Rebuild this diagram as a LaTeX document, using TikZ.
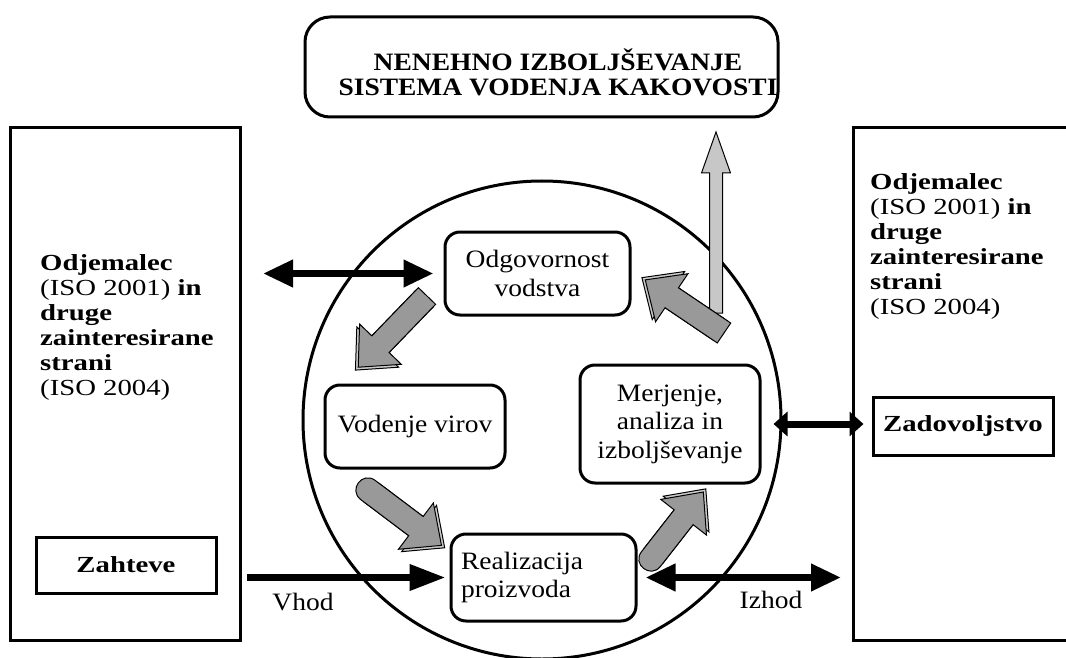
\documentclass[tikz,border=0pt]{standalone}
\usepackage{fontspec}
\setmainfont{Liberation Serif}
\newfontfamily\procfont[FakeStretch=1.1]{Liberation Serif}
\newfontfamily\partyfont[FakeStretch=1.25]{Liberation Serif}
\usetikzlibrary{arrows.meta,calc}

\tikzset{
  box/.style={draw, line width=3pt, inner sep=0pt},
  proc/.style={draw, line width=3pt, rounded corners=15pt, align=center,
    font=\procfont\fontsize{25}{28.5}\selectfont, inner sep=0pt},
  party/.style={align=left, font=\partyfont\fontsize{23}{25}\selectfont,
    inner sep=0pt, anchor=north west},
  partybold/.style={font=\partyfont\bfseries\fontsize{23}{25}\selectfont},
  label/.style={font=\procfont\fontsize{25}{28}\selectfont, inner sep=0pt},
  flow/.style={line width=7pt,
    arrows={Triangle[length=30pt,width=26pt]-Triangle[length=30pt,width=26pt]}},
  flowshort/.style={line width=7pt,
    arrows={Triangle[length=14pt,width=24pt]-Triangle[length=14pt,width=24pt]}},
  flowin/.style={line width=7pt, arrows={-Triangle[length=36pt,width=25pt]}},
  blockfill/.style={fill=black!40, draw=black, line width=1pt},
  blockshade/.style={fill=black!20, draw=black, line width=1pt},
  liftfill/.style={fill=black!22, draw=black, line width=1pt},
}

% broad grey flow arrow: tail point, direction in degrees, length
\newcommand\blockarrow[3]{%
  \begin{scope}[shift={#1}, rotate=#2]
    \filldraw[blockshade] (4,-12) -- ({#3-28},-12) -- ({#3-28},-29) -- ({#3+4},0)
      -- ({#3-28},29) -- ({#3-28},12) -- (4,12) -- cycle;
    \filldraw[blockfill] (0,-12) -- ({#3-32},-12) -- ({#3-32},-29) -- (#3,0)
      -- ({#3-32},29) -- ({#3-32},12) -- (0,12) -- cycle;
  \end{scope}}
% the same with a rounded tail
\newcommand\blockarrowround[3]{%
  \begin{scope}[shift={#1}, rotate=#2]
    \filldraw[blockshade] (4,-12) -- ({#3-28},-12) -- ({#3-28},-29) -- ({#3+4},0)
      -- ({#3-28},29) -- ({#3-28},12) -- (4,12) -- cycle;
    \filldraw[blockfill] (0,-12) -- ({#3-32},-12) -- ({#3-32},-29) -- (#3,0)
      -- ({#3-32},29) -- ({#3-32},12) -- (0,12)
      .. controls (-16,12) and (-16,-12) .. (0,-12) -- cycle;
  \end{scope}}

\begin{document}
\begin{tikzpicture}[x=1pt, y=-1pt]
\useasboundingbox (0,0) rectangle (1066,658);
\clip (0,0) rectangle (1066,658);

% heading box
\node[draw, line width=3pt, rounded corners=25pt, minimum width=473pt,
  minimum height=100pt, inner sep=0pt] (kak) at (541.5,67) {};
\node[font=\procfont\bfseries\fontsize{25}{25}\selectfont, align=center,
  inner sep=0pt] (kaktxt) at (558,72)
  {NENEHNO IZBOLJŠEVANJE\\SISTEMA VODENJA KAKOVOSTI};

% interested parties on both sides
\node[box, minimum width=230pt, minimum height=512pt] (lbox) at (125,384) {};
\node[box, minimum width=222pt, minimum height=512pt] (rbox) at (964,384) {};
\node[party] (ltxt) at (40,254)
  {\textbf{Odjemalec}\\(ISO 2001) \textbf{in}\\\textbf{druge}\\
   \textbf{zainteresirane}\\\textbf{strani}\\(ISO 2004)};
\node[party] (rtxt) at (870,173)
  {\textbf{Odjemalec}\\(ISO 2001) \textbf{in}\\\textbf{druge}\\
   \textbf{zainteresirane}\\\textbf{strani}\\(ISO 2004)};
\node[box, partybold, minimum width=180pt, minimum height=56pt] (zah) at (126,565) {Zahteve};
\node[box, partybold, minimum width=180pt, minimum height=58pt] (zad) at (963,426) {Zadovoljstvo};

% process cycle
\node[draw, circle, line width=3pt, minimum size=478pt, inner sep=0pt] (cyc) at (542,420) {};
\node[proc, minimum width=185pt, minimum height=83pt] (odg) at (537.5,273.5) {Odgovornost\\vodstva};
\node[proc, minimum width=180pt, minimum height=83pt] (vod) at (415,426.5) {Vodenje virov};
\node[proc, minimum width=180pt, minimum height=118pt] (mer) at (670,424) {Merjenje,\\analiza in\\izboljševanje};
\node[proc, minimum width=185pt, minimum height=87pt, align=left, text width=165pt] (rea) at (543.5,577.5) {Realizacija\\proizvoda};

% improvement lift towards the heading
\coordinate (lift) at (716,313);
\begin{scope}[shift={(lift)}]
  \filldraw[liftfill] (-6.5,0) -- (-6.5,-140) -- (-14.5,-140) -- (0,-181)
    -- (14.5,-140) -- (6.5,-140) -- (6.5,0) -- cycle;
\end{scope}

% cycle flow arrows
\blockarrow{(427,296)}{226}{99}
\blockarrowround{(368,490)}{-37}{92}
\blockarrowround{(651,559)}{52}{85}
\blockarrow{(724,333)}{146}{95}

% exchanges with the parties
\coordinate (fb) at (263,273.5);
\draw[flow, shorten >=10pt] (fb) -- (odg.west);
\coordinate (vin) at (247,577.5);
\draw[flowin, shorten >=4pt] (vin) -- (rea.west);
\coordinate (vout) at (841,577.5);
\draw[flow, shorten <=8pt] (rea.east) -- (vout);
\draw[flowshort, shorten <=12pt, shorten >=8pt] (mer.east) -- (mer.east -| zad.west);

\node[label] (vhod) at (303,602) {Vhod};
\node[label] (izhod) at (771,600) {Izhod};
\end{tikzpicture}
\end{document}
